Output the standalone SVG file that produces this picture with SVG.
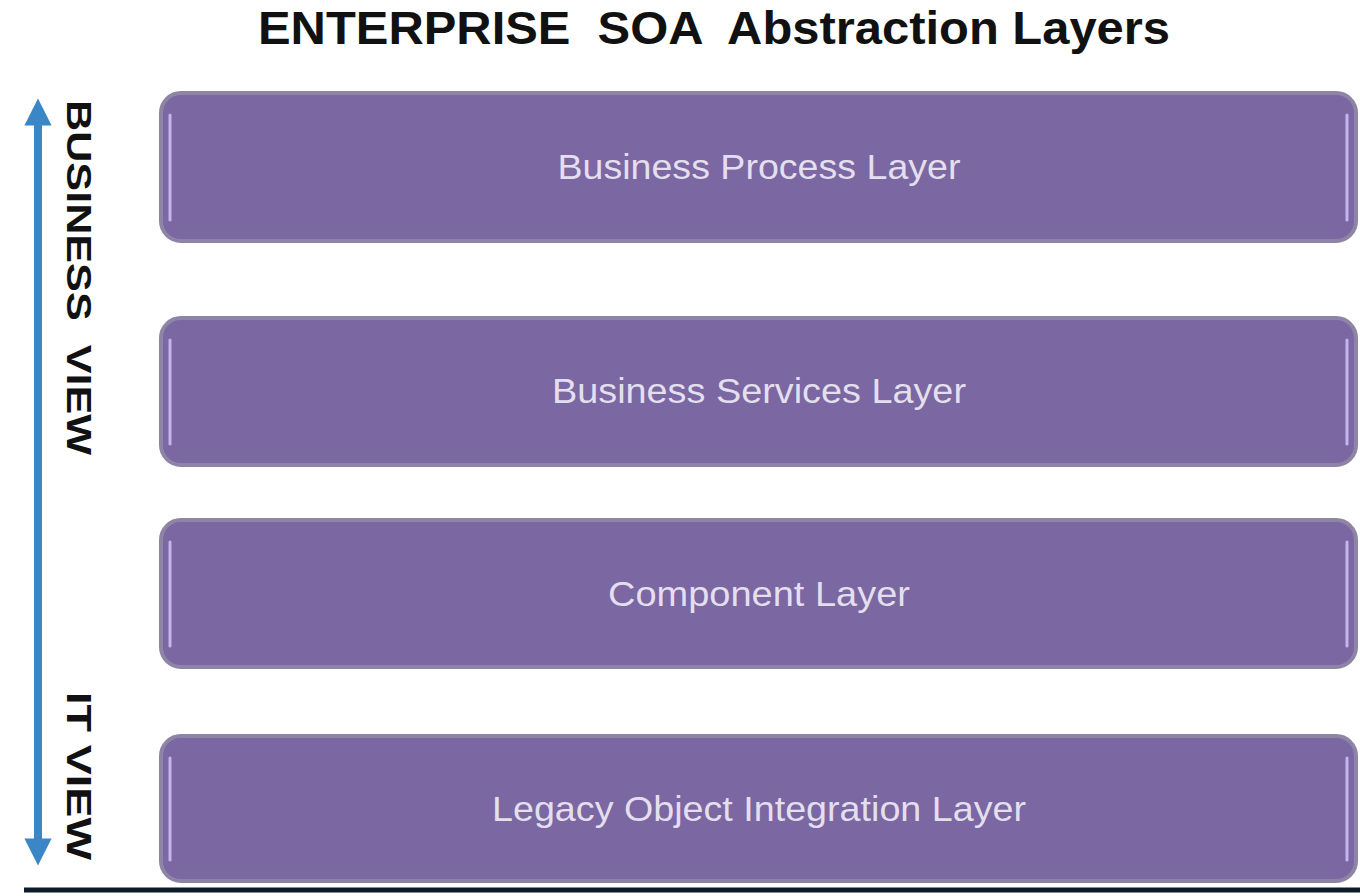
<svg xmlns="http://www.w3.org/2000/svg" width="1360" height="896" viewBox="0 0 1360 896">
<style>
.title{font-family:"Liberation Sans",Arial,sans-serif;font-weight:bold;font-size:46px;fill:#111}
.box{fill:#7b67a2;stroke:#8e84a6;stroke-width:4}
.hl{fill:none;stroke:#c4b6ea;stroke-width:3;stroke-linecap:round}
.lbl{font-family:"Liberation Sans",Arial,sans-serif;font-size:35px;fill:#e4dfee;text-anchor:middle}
.side{font-family:"Liberation Sans",Arial,sans-serif;font-weight:bold;font-size:35px;fill:#111}
</style>
<defs>
<marker id="ah" viewBox="0 0 10 10" refX="5" refY="5" markerWidth="3.6" markerHeight="3.4" orient="auto-start-reverse" markerUnits="strokeWidth">
<path d="M0,0 L10,5 L0,10 z" fill="#3a86c6"/>
</marker>
</defs>
<rect width="1360" height="896" fill="#fff"/>
<text class="title" x="258" y="44" xml:space="preserve" textLength="912" lengthAdjust="spacingAndGlyphs">ENTERPRISE  SOA  Abstraction Layers</text>
<g id="connectors">
<line x1="38" y1="112" x2="38" y2="852" stroke="#3a86c6" stroke-width="8" marker-start="url(#ah)" marker-end="url(#ah)"/>
</g>
<g id="business-view-label">
<text class="side" transform="translate(67,100) rotate(90)" xml:space="preserve" textLength="355" lengthAdjust="spacingAndGlyphs">BUSINESS  VIEW</text>
</g>
<g id="it-view-label">
<text class="side" transform="translate(67,692) rotate(90)" textLength="168" lengthAdjust="spacingAndGlyphs">IT VIEW</text>
</g>
<g id="business-process-layer">
<rect class="box" x="161" y="93" width="1195" height="148" rx="20"/>
<path class="hl" d="M170,115 L170,220"/><path class="hl" d="M1347,115 L1347,220"/>
<text class="lbl" x="759" y="179" textLength="403" lengthAdjust="spacingAndGlyphs">Business Process Layer</text>
</g>
<g id="business-services-layer">
<rect class="box" x="161" y="318" width="1195" height="147" rx="20"/>
<path class="hl" d="M170,340 L170,444"/><path class="hl" d="M1347,340 L1347,444"/>
<text class="lbl" x="759" y="403" textLength="414" lengthAdjust="spacingAndGlyphs">Business Services Layer</text>
</g>
<g id="component-layer">
<rect class="box" x="161" y="520" width="1195" height="147" rx="20"/>
<path class="hl" d="M170,542 L170,646"/><path class="hl" d="M1347,542 L1347,646"/>
<text class="lbl" x="759" y="606" textLength="302" lengthAdjust="spacingAndGlyphs">Component Layer</text>
</g>
<g id="legacy-object-integration-layer">
<rect class="box" x="161" y="736" width="1195" height="145" rx="20"/>
<path class="hl" d="M170,758 L170,860"/><path class="hl" d="M1347,758 L1347,860"/>
<text class="lbl" x="759" y="821" textLength="534" lengthAdjust="spacingAndGlyphs">Legacy Object Integration Layer</text>
</g>
<line x1="24" y1="890" x2="1360" y2="890" stroke="#0d1a28" stroke-width="5"/>
</svg>
